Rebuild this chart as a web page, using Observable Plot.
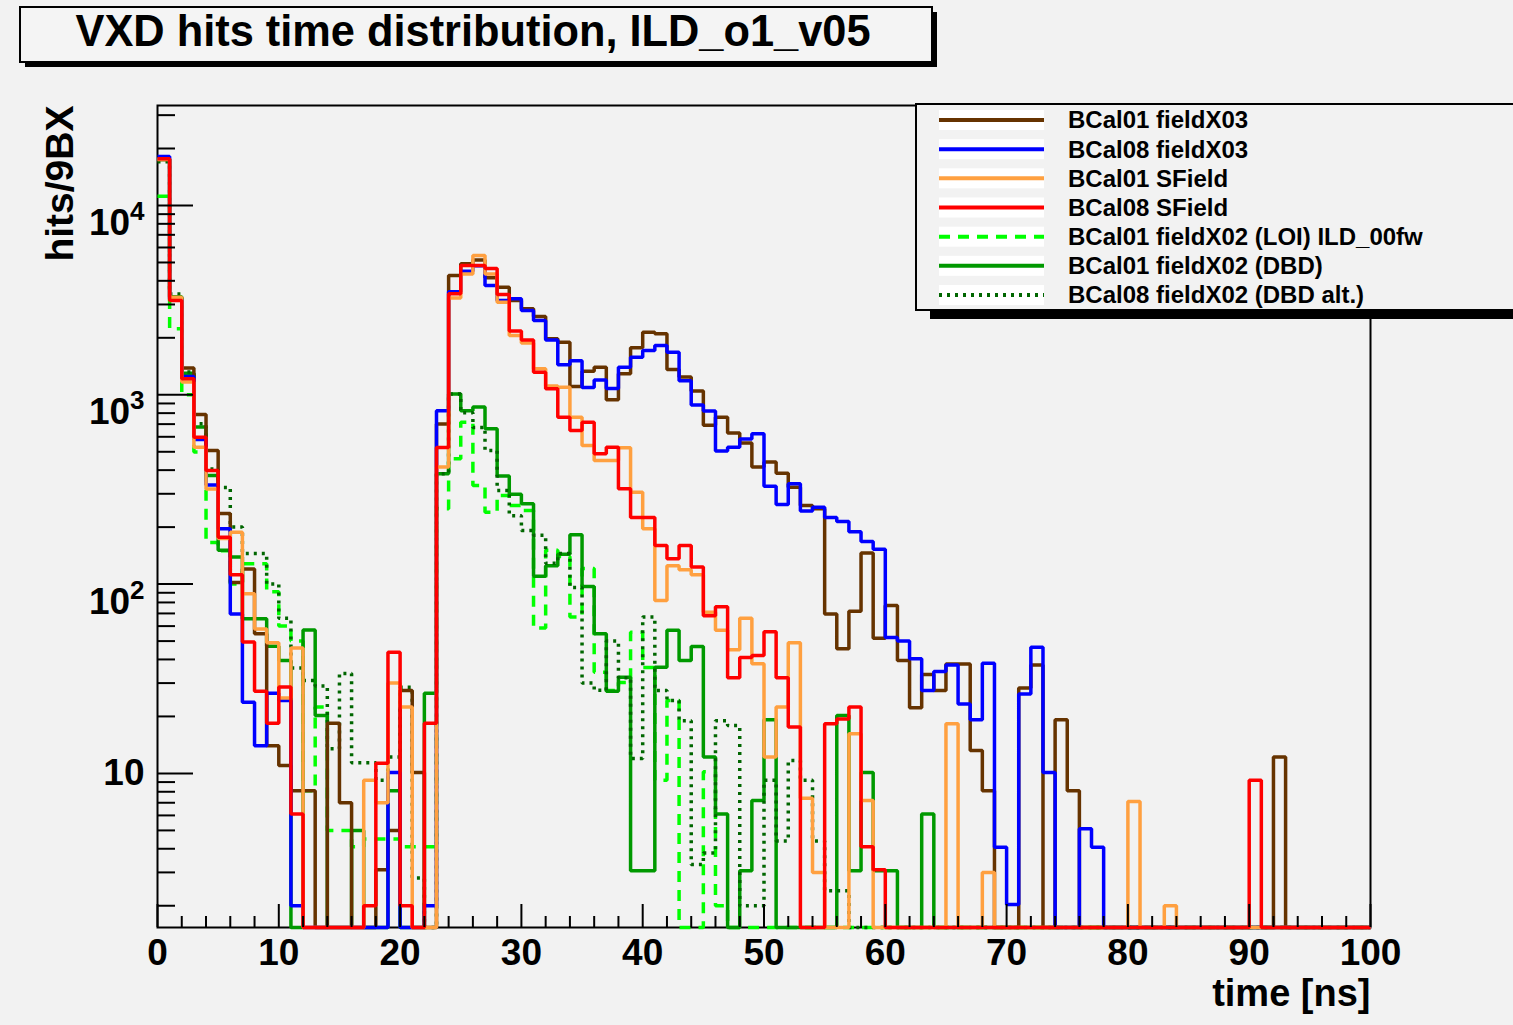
<!DOCTYPE html>
<html>
<head>
<meta charset="utf-8">
<script src="https://cdn.jsdelivr.net/npm/d3@7"></script>
<script src="https://cdn.jsdelivr.net/npm/@observablehq/plot@0.6"></script>
<style>
html, body { margin: 0; padding: 0; background: #ffffff; }
#wrap { position: relative; width: 1513px; height: 1025px; background: #f2f2f2; overflow: hidden;
        font-family: "Liberation Sans", Arial, Helvetica, sans-serif; }
#plot { position: absolute; left: 0; top: 0; }
#overlay { position: absolute; left: 0; top: 0; }
</style>
</head>
<body>
<div id="wrap"><div id="plot"></div><svg id="overlay" width="1513" height="1025"></svg></div>
<script>
// ---------------- data ----------------
const titleText = "VXD hits time distribution, ILD_o1_v05";
const xLabel = "time [ns]";
const yLabel = "hits/9BX";
const binWidth = 1;                       // ns per bin
const timeBins = d3.range(0, 100, binWidth); // bin lower edges, 0..99 ns

const xMajorTicks = [0, 10, 20, 30, 40, 50, 60, 70, 80, 90, 100];
const xMinorTicks = [2,4,6,8,12,14,16,18,22,24,26,28,32,34,36,38,42,44,46,48,52,54,56,58,62,64,66,68,72,74,76,78,82,84,86,88,92,94,96,98];
const yMajorTicks = [10, 100, 1000, 10000];
const yMinorTicks = [2,3,4,5,6,7,8,9,20,30,40,50,60,70,80,90,200,300,400,500,600,700,800,900,2000,3000,4000,5000,6000,7000,8000,9000,20000,30000];
const yMin = 1.535, yMax = 33740;

// BCal01 fieldX03
const bcal01X03 = [17500,3250,1384,787,508,236,102,120,54.6,14.0,
  11.0,8.1,8.1,0,18.4,7.0,0,0,3.1,5.0,
  27.4,10.1,0,700,4270,4920,5160,4150,3700,3150,
  2845,2590,1975,1897,1107,1333,1400,942,1291,1771,
  2142,2100,1361,1241,1047,690,762,628,556,415,
  441,385,325,260,250,69.6,45.5,71.8,146,51.8,
  77.1,39.5,22.2,33.3,27.4,37.8,37.8,13.2,8.1,0,
  0,28.3,37.4,0,19.2,8.1,0,0,0,0,
  0,0,0,0,0,0,0,0,0,0,
  0,0,12.2,0,0,0,0,0,0,0];
// BCal08 fieldX03
const bcal08X03 = [18150,3200,1250,581,334,196,69.6,23.8,14.0,26.5,
  24.3,2.0,0,0,0,0,0,0,0,10.1,
  0,0,2.0,824,3500,4500,4800,3780,3150,3215,
  2785,2467,1950,1442,1514,1094,1197,1081,1400,1577,
  1713,1820,1678,1187,883,821,505,528,585,622,
  329,263,339,243,255,225,214,189,168,153,
  52.2,50,40.3,27.4,34.5,37.4,23.3,19.2,38.2,4.07,
  2.03,26.3,46.4,10.1,0,0,5.1,4.07,0,0,
  0,0,0,0,0,0,0,0,0,0,
  0,0,0,0,0,0,0,0,0,0];
// BCal01 SField
const bcal01SF = [17500,3280,1167,528,318,174,188,89,58,49,
  25,46,0,0,0,0,0,9.2,7.0,30,
  22.4,0,0,415,3250,4350,5450,4350,3080,2055,
  1875,1372,1112,1097,762,540,450,450,525,306,
  196,82,125,119,112,71,57,45,66,38,
  12.2,22.4,49,7.4,3.0,0,0,16.2,7.2,0,
  0,0,0,0,0,18.3,0,0,3.0,0,
  0,0,0,0,0,0,0,0,0,0,
  7.1,0,0,2.0,0,0,0,0,0,0,
  0,0,0,0,0,0,0,0,0,0];
// BCal08 SField
const bcal08SF = [17650,3150,1215,597,398,177,112,49.5,27.2,18.4,
  28.6,6.1,0,0,0,0,0,2.0,11.3,43.6,
  2.0,0,18.4,527,3420,4820,4820,4640,3390,2170,
  1950,1317,1077,762,648,717,488,528,319,225,
  225,160,136,160,123,68,76,32,41,42,
  56,32,17.6,0,0,18.3,19.4,22.4,4.1,3.1,
  0,0,0,0,0,0,0,0,0,0,
  0,0,0,0,0,0,0,0,0,0,
  0,0,0,0,0,0,0,0,0,0,
  9.2,0,0,0,0,0,0,0,0,0];
// BCal01 fieldX02 (LOI) ILD_00fw
const bcal01X02LOI = [11200,2230,1000,498,166,150,100,128,128,91,
  60,50,8.1,22.4,5.0,5.0,4.1,4.5,4.5,4.5,
  4.1,4.1,4.1,250,460,716,332,240,294,260,
  245,58.6,151,140,67,121,34.2,27.4,30.2,55.7,
  36.3,9.2,24.3,0,0,10.2,2.0,0,0,0,
  0,0,0,0,0,0,0,0,0,0,
  0,0,0,0,0,0,0,0,0,0,
  0,0,0,0,0,0,0,0,0,0,
  0,0,0,0,0,0,0,0,0,0,
  0,0,0,0,0,0,0,0,0,0];
// BCal01 fieldX02 (DBD)
const bcal01X02DBD = [17500,3300,1300,675,375,151,139,65.6,65.6,46.9,
  39.5,0,57.3,20.2,0,0,5.0,0,0,8.1,
  0,0,26.5,383,1011,824,861,661,372,298,
  266,110,125,144,182,97,54.6,27.2,32.2,3.06,
  3.06,36.4,57,39.5,46.8,12.2,6.1,0,3.06,7.2,
  19.2,0,0,0,0,0,20.2,3.06,10.1,3.06,
  3.06,0,0,6.1,0,0,0,0,0,0,
  0,0,0,0,0,0,0,0,0,0,
  0,0,0,0,0,0,0,0,0,0,
  0,0,0,0,0,0,0,0,0,0];
// BCal08 fieldX02 (DBD alt.)
const bcal08X02DBDalt = [17000,3410,1320,703,406,324,200,145,145,100,
  66,36,31,29,13.5,33.7,11.4,11.4,9.2,12.2,
  28.5,2.8,0,383,1011,805,671,508,312,230,
  192,181,129,145,96,30,27.5,50,32,12,
  67,27.4,24.3,19,3.3,3.8,19,17.9,2.0,2.0,
  9.2,4.4,11.7,9.2,4.4,2.4,2.4,0,0,0,
  0,0,0,0,0,0,0,0,0,0,
  0,0,0,0,0,0,0,0,0,0,
  0,0,0,0,0,0,0,0,0,0,
  0,0,0,0,0,0,0,0,0,0];

const seriesNames = ["BCal01 fieldX03", "BCal08 fieldX03", "BCal01 SField", "BCal08 SField",
  "BCal01 fieldX02 (LOI) ILD_00fw", "BCal01 fieldX02 (DBD)", "BCal08 fieldX02 (DBD alt.)"];
const seriesValues = [bcal01X03, bcal08X03, bcal01SF, bcal08SF, bcal01X02LOI, bcal01X02DBD, bcal08X02DBDalt];

// ---------------- styles ----------------
const seriesColors = ["#663300", "#0000ff", "#ffa040", "#ff0000", "#00ff00", "#009900", "#006600"];
const seriesDash = [null, null, null, null, "11,8", null, "3,5"];
const drawOrder = [4, 5, 6, 0, 1, 2, 3];
const FONT = "Liberation Sans, Arial, Helvetica, sans-serif";

function histSteps(values) {
  const pts = timeBins.map((t, i) => ({t, v: Math.max(values[i], yMin)}));
  pts.push({t: timeBins[timeBins.length - 1] + binWidth, v: Math.max(values[values.length - 1], yMin)});
  return pts;
}

const histMarks = drawOrder.map(k => Plot.line(histSteps(seriesValues[k]), {
  x: "t", y: "v", curve: "step-after",
  stroke: seriesColors[k], strokeWidth: 3.5,
  strokeDasharray: seriesDash[k] || undefined,
  strokeLinejoin: "miter", strokeLinecap: "butt"
}));

const chart = Plot.plot({
  width: 1513, height: 1025,
  marginLeft: 157, marginRight: 143, marginTop: 105, marginBottom: 98,
  style: {background: "transparent", fontFamily: FONT, color: "black", overflow: "visible"},
  x: {domain: [0, 100], label: null},
  y: {type: "log", domain: [yMin, yMax], label: null},
  marks: [
    Plot.frame({stroke: "black", strokeWidth: 2}),
    ...histMarks,
    Plot.axisX(xMajorTicks, {anchor: "bottom", tickSize: -23, strokeWidth: 2, fill: "none", label: null}),
    Plot.axisX(xMinorTicks, {anchor: "bottom", tickSize: -11, strokeWidth: 2, fill: "none", label: null}),
    Plot.axisX(xMajorTicks, {anchor: "bottom", tickSize: 0, tickPadding: 11, fontSize: 37, fontWeight: "bold", label: null}),
    Plot.axisY(yMajorTicks, {anchor: "left", tickSize: -36, strokeWidth: 2, fill: "none", label: null}),
    Plot.axisY(yMinorTicks, {anchor: "left", tickSize: -18, strokeWidth: 2, fill: "none", label: null}),
    Plot.axisY(yMajorTicks, {anchor: "left", tickSize: 0, tickPadding: 13, fontSize: 37, fontWeight: "bold", label: null,
      tickFormat: d => { const e = Math.round(Math.log10(d)); return e === 1 ? "10" : "10^" + e; }}),
    Plot.text([xLabel], {text: d => d, frameAnchor: "bottom-right", textAnchor: "end", dy: 78, fontSize: 38, fontWeight: "bold"}),
    Plot.text([yLabel], {text: d => d, frameAnchor: "top-left", rotate: -90, textAnchor: "end", dx: -112, fontSize: 39, fontWeight: "bold"})
  ]
});
document.getElementById("plot").appendChild(chart);

// superscript exponents on the y tick labels
d3.select(chart).selectAll('g[aria-label="y-axis tick label"] text').each(function() {
  const s = this.textContent;
  if (s.includes("^")) {
    const [b, e] = s.split("^");
    const t = d3.select(this);
    t.text(b).attr("dy", "0.48em");
    t.append("tspan").attr("dy", -15).attr("font-size", 26).text(e);
  }
});

// ---------------- title box & legend ----------------
const ov = d3.select("#overlay").attr("font-family", FONT);
ov.append("rect").attr("x", 25).attr("y", 12).attr("width", 912).attr("height", 55).attr("fill", "#000");
ov.append("rect").attr("x", 20).attr("y", 7).attr("width", 912).attr("height", 55)
  .attr("fill", "#f4f4f4").attr("stroke", "#000").attr("stroke-width", 2);
ov.append("text").attr("x", 473).attr("y", 46).attr("text-anchor", "middle")
  .attr("font-size", 44).attr("font-weight", "bold")
  .attr("textLength", 795).attr("lengthAdjust", "spacingAndGlyphs").text(titleText);

ov.append("rect").attr("x", 930).attr("y", 118).attr("width", 620).attr("height", 201).attr("fill", "#000");
ov.append("rect").attr("x", 916).attr("y", 104).attr("width", 640).attr("height", 206)
  .attr("fill", "#f2f2f2").attr("stroke", "#000").attr("stroke-width", 2);
const rowY = d3.scaleLinear().domain([0, seriesNames.length - 1]).range([120, 295]);
seriesNames.forEach((name, k) => {
  const y = rowY(k);
  ov.append("rect").attr("x", 939).attr("y", y - 10).attr("width", 105).attr("height", 20).attr("fill", "#ffffff");
  ov.append("line").attr("x1", 939).attr("x2", 1044).attr("y1", y).attr("y2", y)
    .attr("stroke", seriesColors[k]).attr("stroke-width", 4)
    .attr("stroke-dasharray", seriesDash[k] || null);
  ov.append("text").attr("x", 1068).attr("y", y).attr("dy", "0.35em")
    .attr("font-size", 24).attr("font-weight", "bold").text(name);
});
</script>
</body>
</html>
